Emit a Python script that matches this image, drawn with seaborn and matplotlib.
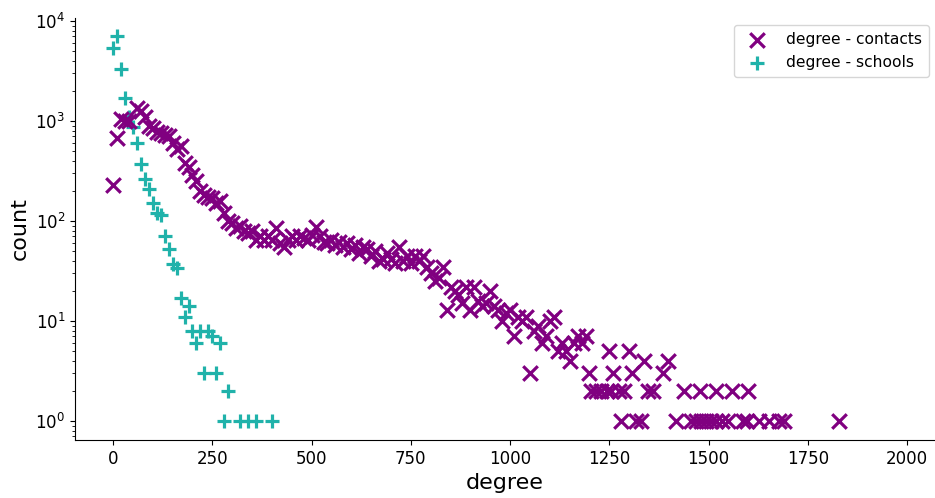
import numpy as np
import pandas as pd
import matplotlib
matplotlib.use("Agg")
import matplotlib.pyplot as plt
import seaborn as sns

# degree - contacts
contacts_degree = [0, 10, 20, 30, 40, 60, 70, 80, 90, 100, 110, 120, 130, 140, 150, 160, 170,
                   180, 190, 200, 210, 220, 230, 240, 250, 260, 270, 280, 290, 300, 310, 320,
                   330, 340, 350, 360, 370, 380, 390, 400, 410, 420, 430, 440, 450, 460, 470,
                   480, 490, 500, 510, 520, 530, 540, 550, 560, 570, 580, 590, 600, 610, 620,
                   630, 640, 650, 660, 670, 680, 690, 700, 710, 720, 730, 740, 750, 760, 770,
                   780, 790, 800, 810, 820, 830, 840, 850, 860, 870, 880, 890, 900, 910, 920,
                   930, 940, 950, 960, 970, 980, 990, 1000, 1010, 1020, 1030, 1040, 1050, 1060,
                   1070, 1080, 1090, 1100, 1110, 1120, 1130, 1140, 1150, 1160, 1170, 1180, 1190,
                   1200, 1205, 1217, 1230, 1243, 1250, 1255, 1258, 1275, 1279, 1288, 1300, 1308,
                   1317, 1330, 1338, 1348, 1359, 1384, 1399, 1418, 1439, 1456, 1468, 1479, 1481,
                   1493, 1506, 1518, 1519, 1535, 1548, 1560, 1586, 1598, 1600, 1628, 1653, 1678,
                   1690, 1829]
contacts_count = [230, 680, 1050, 1000, 1000, 1350, 1250, 1100, 900, 850, 780, 760, 720, 700,
                  600, 520, 560, 380, 350, 290, 250, 200, 180, 175, 170, 150, 160, 120, 100, 95,
                  85, 90, 80, 75, 80, 65, 70, 65, 70, 65, 85, 60, 55, 65, 70, 65, 70, 68, 65, 72,
                  88, 70, 62, 60, 65, 58, 62, 55, 60, 52, 58, 48, 55, 52, 45, 50, 40, 42, 48, 42,
                  38, 55, 40, 45, 38, 45, 40, 45, 35, 30, 25, 27, 35, 13, 22, 20, 18, 15, 22, 13,
                  22, 16, 14, 15, 20, 14, 13, 10, 12, 13, 7, 11, 10, 11, 3, 8, 9, 6, 7, 10, 11, 5,
                  6, 5, 4, 6, 7, 6, 7, 3, 2, 2, 2, 2, 5, 2, 3, 2, 1, 2, 5, 3, 1, 1, 4, 2, 2, 3, 4,
                  1, 2, 1, 1, 2, 1, 1, 1, 1, 2, 1, 1, 2, 1, 1, 2, 1, 1, 1, 1, 1]

# degree - schools
schools_degree = [0, 10, 20, 30, 40, 50, 60, 70, 80, 90, 100, 110, 120, 130, 140, 150, 160,
                  170, 180, 190, 200, 210, 220, 230, 240, 250, 260, 270, 280, 290, 320, 340,
                  360, 400]
schools_count = [5400, 7000, 3300, 1700, 1100, 870, 600, 370, 260, 210, 150, 120, 115, 70, 53,
                 37, 34, 17, 11, 14, 8, 6, 8, 3, 8, 7, 3, 6, 1, 2, 1, 1, 1, 1]

contacts_label = "degree - contacts"
schools_label = "degree - schools"

sns.set_style("ticks")
plt.rcParams["font.family"] = ["DejaVu Sans"]
plt.rcParams.update({
    "text.color": "black",
    "axes.labelcolor": "black",
    "xtick.color": "black",
    "ytick.color": "black",
    "axes.edgecolor": "black",
})

fig = plt.figure(figsize=(9.35, 4.98), dpi=100)
ax = fig.add_axes([0.0802, 0.1165, 0.9188, 0.8474])

df_c = pd.DataFrame({"degree": contacts_degree, "count": contacts_count})
df_s = pd.DataFrame({"degree": schools_degree, "count": schools_count})

sns.scatterplot(data=df_c, x="degree", y="count", marker="x", color="#800080",
                s=110, linewidth=2.3, label=contacts_label, ax=ax, zorder=3)
sns.scatterplot(data=df_s, x="degree", y="count", marker="+", color="#20B2AA",
                s=110, linewidth=2.3, label=schools_label, ax=ax, zorder=2)

ax.set_yscale("log")
ax.set_xlim(-96, 2068)
ax.set_ylim(10 ** -0.19, 10 ** 4.03)
ax.set_xticks([0, 250, 500, 750, 1000, 1250, 1500, 1750, 2000])
ax.tick_params(axis="both", labelsize=12, colors="black")
ax.set_xlabel("degree", fontsize=16)
ax.set_ylabel("count", fontsize=16)
sns.despine(ax=ax)

leg = ax.legend(loc="upper right", fontsize=11.2, frameon=True, markerscale=1.0,
                borderaxespad=0.3, labelspacing=0.55, handletextpad=0.9,
                borderpad=0.45, bbox_to_anchor=(1.0, 0.995))
leg.get_frame().set_edgecolor("#cccccc")

fig.savefig("out.png", dpi=100)
